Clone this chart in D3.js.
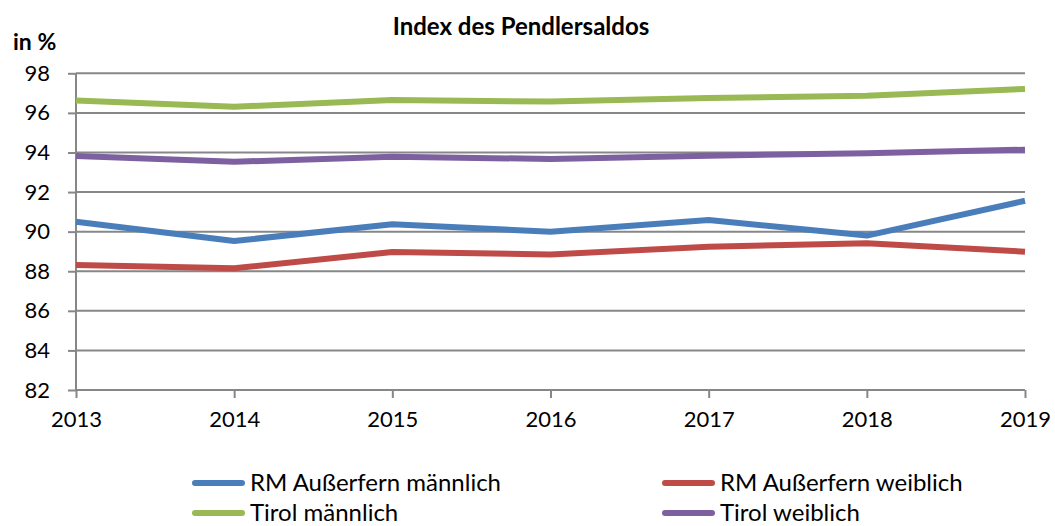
<!DOCTYPE html>
<html lang="de">
<head>
    <meta charset="UTF-8">
    <title>Index des Pendlersaldos</title>
    <script src="https://d3js.org/d3.v7.min.js"></script>
    <style>
        body { margin: 0; background: #fff; }
        text { font-family: Lato, 'Open Sans', sans-serif; fill: #000; }
        .title { font-size: 24px; font-weight: bold; }
    </style>
</head>
<body>
<svg height="526" width="1055"></svg>
<script>
    const years = [2013, 2014, 2015, 2016, 2017, 2018, 2019];
    const yTicks = [82, 84, 86, 88, 90, 92, 94, 96, 98];
    const names = ["RM Außerfern männlich", "RM Außerfern weiblich", "Tirol männlich", "Tirol weiblich"];
    const colors = ["#4a7ebb", "#be4b48", "#98b954", "#7d60a0"];
    const rmMaennlich = [90.5, 89.53, 90.37, 90.0, 90.59, 89.8, 91.56];
    const rmWeiblich = [88.31, 88.15, 88.97, 88.85, 89.24, 89.41, 88.99];
    const tirolMaennlich = [96.62, 96.31, 96.65, 96.57, 96.75, 96.87, 97.21];
    const tirolWeiblich = [93.82, 93.53, 93.79, 93.67, 93.84, 93.96, 94.14];
    const series = [rmMaennlich, rmWeiblich, tirolMaennlich, tirolWeiblich];

    const svg = d3.select("svg");
    const x = d3.scaleLinear().domain([2013, 2019]).range([76, 1025]);
    const y = d3.scaleLinear().domain([82, 98]).range([390, 73.3]);

    // gridlines
    svg.append("g").selectAll("line").data(yTicks.slice(1)).enter().append("line")
        .attr("x1", x(2013)).attr("x2", x(2019))
        .attr("y1", y).attr("y2", y)
        .attr("stroke", "#878787").attr("stroke-width", 2);

    const yAxis = svg.append("g").attr("transform", `translate(${x(2013)},0)`)
        .call(d3.axisLeft(y).tickValues(yTicks).tickSize(8).tickPadding(18));
    const xAxis = svg.append("g").attr("transform", `translate(0,${y(82)})`)
        .call(d3.axisBottom(x).tickValues(years).tickFormat(d3.format("d")).tickSize(8).tickPadding(13));
    [yAxis, xAxis].forEach(a => {
        a.select(".domain").attr("stroke", "#878787").attr("stroke-width", 2);
        a.selectAll(".tick line").attr("stroke", "#878787").attr("stroke-width", 2);
        a.selectAll(".tick text").style("font-size", "22px").style("font-family", "Lato, sans-serif");
    });
    xAxis.select(".domain").attr("d", `M${x(2013)},0H${x(2019)}`);
    yAxis.select(".domain").attr("d", `M0,${y(82)}V${y(98)}`);

    const line = d3.line().x((d, i) => x(years[i])).y(d => y(d));
    svg.append("g").selectAll("path").data(series).enter().append("path")
        .attr("d", line)
        .attr("fill", "none")
        .attr("stroke", (d, i) => colors[i])
        .attr("stroke-width", 6)
        .attr("stroke-linejoin", "round");

    svg.append("text").attr("class", "title")
        .attr("x", 521).attr("y", 35).attr("text-anchor", "middle")
        .text("Index des Pendlersaldos");
    svg.append("text")
        .attr("x", 13).attr("y", 50)
        .style("font-size", "23px").style("font-weight", "bold")
        .text("in %");

    // legend
    const legend = svg.append("g").selectAll("g").data(names).enter().append("g")
        .attr("transform", (d, i) => `translate(${i % 2 === 0 ? 195 : 665},${i < 2 ? 483 : 513})`);
    legend.append("line")
        .attr("x1", 0).attr("x2", 47)
        .attr("stroke", (d, i) => colors[i]).attr("stroke-width", 6).attr("stroke-linecap", "round");
    legend.append("text")
        .attr("x", 55).attr("y", 8)
        .style("font-size", "24px")
        .text(d => d);
</script>
</body>
</html>
